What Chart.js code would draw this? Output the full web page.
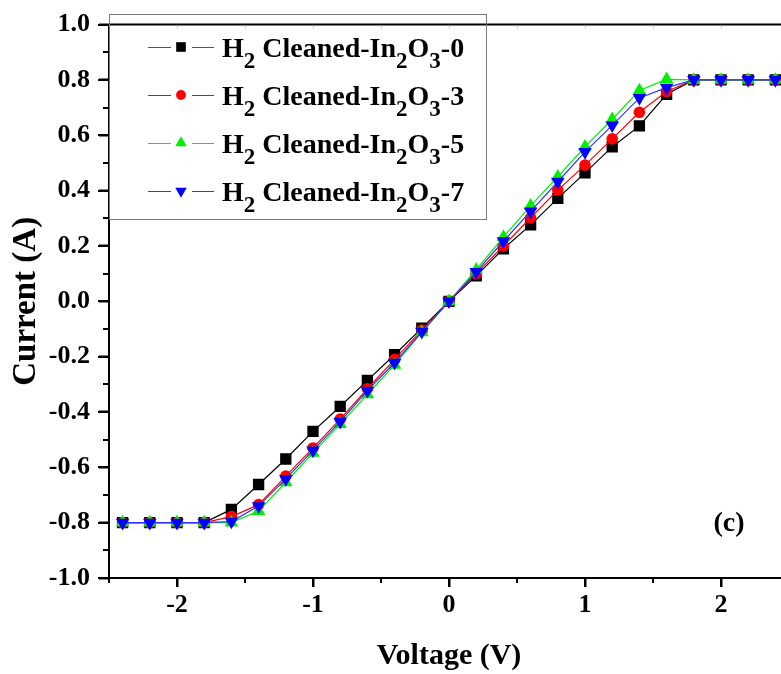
<!DOCTYPE html>
<html>
<head>
<meta charset="utf-8">
<script src="https://cdn.jsdelivr.net/npm/chart.js@4.4.1/dist/chart.umd.min.js"></script>
<style>
  html, body { margin: 0; padding: 0; background: #fff; overflow: hidden; }
  #wrap { width: 800px; height: 674px; }
</style>
</head>
<body>
<div id="wrap"><canvas id="iv" width="800" height="674"></canvas></div>
<script>
// Voltage steps (V)
const voltage = [-2.4, -2.2, -2.0, -1.8, -1.6, -1.4, -1.2, -1.0, -0.8, -0.6, -0.4, -0.2, 0,
                 0.2, 0.4, 0.6, 0.8, 1.0, 1.2, 1.4, 1.6, 1.8, 2.0, 2.2, 2.4];

// Current (A)
const in2o3_0 = [-0.8, -0.8, -0.8, -0.8, -0.752, -0.662, -0.57, -0.47, -0.38, -0.286, -0.193, -0.097, 0,
                 0.092, 0.19, 0.276, 0.372, 0.464, 0.558, 0.634, 0.748, 0.8, 0.8, 0.8, 0.8];
const in2o3_3 = [-0.8, -0.8, -0.8, -0.8, -0.778, -0.735, -0.632, -0.53, -0.426, -0.316, -0.21, -0.104, 0,
                 0.1, 0.2, 0.302, 0.402, 0.492, 0.587, 0.683, 0.758, 0.8, 0.8, 0.8, 0.8];
const in2o3_5 = [-0.8, -0.8, -0.8, -0.8, -0.8, -0.758, -0.654, -0.548, -0.444, -0.336, -0.23, -0.112, 0,
                 0.114, 0.232, 0.345, 0.45, 0.558, 0.658, 0.762, 0.802, 0.8, 0.8, 0.8, 0.8];
const in2o3_7 = [-0.8, -0.8, -0.8, -0.8, -0.796, -0.74, -0.642, -0.539, -0.435, -0.323, -0.222, -0.11, 0,
                 0.106, 0.217, 0.325, 0.432, 0.54, 0.636, 0.735, 0.772, 0.8, 0.8, 0.8, 0.8];

const seriesSuffix = ['0', '3', '5', '7'];
const xTicks = [-2, -1, 0, 1, 2];
const yTicks = [-1.0, -0.8, -0.6, -0.4, -0.2, 0.0, 0.2, 0.4, 0.6, 0.8, 1.0];
const xMinor = [-2.5, -1.5, -0.5, 0.5, 1.5, 2.5];
const yMinor = [-0.9, -0.7, -0.5, -0.3, -0.1, 0.1, 0.3, 0.5, 0.7, 0.9];

const SERIF = '"Liberation Serif", "Times New Roman", serif';

const styles = [
  { color: '#000000', line: '#000000', shape: 'rect', radius: 8, rot: 0 },
  { color: '#ff0000', line: '#ff0000', shape: 'circle', radius: 5.8, rot: 0 },
  { color: '#00ee00', line: '#00ee00', shape: 'triangle', radius: 7.8, rot: 0 },
  { color: '#0000ff', line: '#3333ff', shape: 'triangle', radius: 7.8, rot: 180 }
];

const allSeries = [in2o3_0, in2o3_3, in2o3_5, in2o3_7];

const datasets = allSeries.map((vals, i) => ({
  label: 'H2 Cleaned-In2O3-' + seriesSuffix[i],
  data: voltage.map((v, k) => ({ x: v, y: vals[k] })),
  borderColor: styles[i].line,
  backgroundColor: styles[i].color,
  borderWidth: 1.2,
  pointStyle: styles[i].shape,
  pointRadius: styles[i].radius,
  pointRotation: styles[i].rot,
  pointBorderWidth: 0,
  pointBackgroundColor: styles[i].color,
  tension: 0,
  order: 3 - i   // blue drawn on top
}));

// ticks, top frame line, legend and panel label
const decorations = {
  id: 'decorations',
  afterDraw(chart) {
    const { ctx, chartArea: ca, scales: { x, y } } = chart;
    ctx.save();
    ctx.strokeStyle = '#000';
    ctx.lineWidth = 2;
    ctx.beginPath();
    xMinor.forEach(v => {
      const px = Math.round(x.getPixelForValue(v));
      ctx.moveTo(px, ca.bottom);
      ctx.lineTo(px, ca.bottom + 5);
    });
    xTicks.forEach(v => {
      const px = Math.round(x.getPixelForValue(v));
      ctx.moveTo(px, ca.bottom);
      ctx.lineTo(px, ca.bottom + 9);
    });
    yMinor.forEach(v => {
      const py = Math.round(y.getPixelForValue(v));
      ctx.moveTo(ca.left, py);
      ctx.lineTo(ca.left - 6, py);
    });
    yTicks.forEach(v => {
      const py = Math.round(y.getPixelForValue(v));
      ctx.moveTo(ca.left, py);
      ctx.lineTo(ca.left - 11, py);
    });
    ctx.stroke();

    // top frame
    ctx.beginPath();
    ctx.moveTo(ca.left - 1, ca.top);
    ctx.lineTo(ca.right, ca.top);
    ctx.stroke();

    // faint mirror ticks on top
    ctx.strokeStyle = '#cccccc';
    ctx.lineWidth = 1;
    ctx.beginPath();
    xTicks.concat(xMinor).forEach(v => {
      const px = Math.round(x.getPixelForValue(v)) + 0.5;
      ctx.moveTo(px, ca.top + 1);
      ctx.lineTo(px, ca.top + 4);
    });
    ctx.stroke();

    // legend box
    const bx = 109.5, by = 14.5, bw = 377, bh = 205;
    ctx.strokeStyle = '#7a7a7a';
    ctx.lineWidth = 1;
    ctx.strokeRect(bx, by, bw, bh);

    const rows = [47, 95, 143, 191];
    const mainFont = 'bold 28px ' + SERIF;
    const subFont = 'bold 23px ' + SERIF;
    rows.forEach((ry, i) => {
      const st = styles[i];
      ctx.strokeStyle = st.line === '#000000' ? '#555' : st.line;
      ctx.lineWidth = 1.2;
      ctx.beginPath();
      ctx.moveTo(148, ry + 0.5); ctx.lineTo(171, ry + 0.5);
      ctx.moveTo(192, ry + 0.5); ctx.lineTo(214, ry + 0.5);
      ctx.stroke();
      ctx.fillStyle = st.color;
      Chart.helpers.drawPoint(ctx, { pointStyle: st.shape, radius: st.radius * 0.85, rotation: st.rot, borderWidth: 0 }, 181, ry);

      // text with subscripts
      const parts = [['H', 0], ['2', 1], [' Cleaned-In', 0], ['2', 1], ['O', 0], ['3', 1], ['-' + seriesSuffix[i], 0]];
      let tx = 222;
      const base = ry + 10;
      ctx.fillStyle = '#000';
      ctx.textBaseline = 'alphabetic';
      ctx.textAlign = 'left';
      parts.forEach(([t, sub]) => {
        ctx.font = sub ? subFont : mainFont;
        ctx.fillText(t, tx, sub ? base + 11 : base);
        tx += ctx.measureText(t).width;
      });
    });

    // panel label
    ctx.font = 'bold 28px ' + SERIF;
    ctx.fillStyle = '#000';
    ctx.textAlign = 'center';
    ctx.textBaseline = 'middle';
    ctx.fillText('(c)', 729, 524);
    ctx.restore();
  }
};

new Chart(document.getElementById('iv'), {
  type: 'line',
  data: { datasets },
  options: {
    responsive: false,
    animation: false,
    events: [],
    layout: { padding: { top: 21, right: 11, left: 0, bottom: 0 } },
    plugins: { legend: { display: false }, tooltip: { enabled: false } },
    scales: {
      x: {
        type: 'linear',
        min: -2.5,
        max: 2.5,
        afterFit: s => { s.height = 96; },
        afterBuildTicks: s => { s.ticks = xTicks.map(v => ({ value: v })); },
        grid: { drawOnChartArea: false, drawTicks: true, tickLength: 9, tickWidth: 2, tickColor: '#000' },
        border: { display: true, color: '#000', width: 2 },
        ticks: {
          color: '#000',
          padding: 3,
          maxRotation: 0,
          font: { family: SERIF, size: 26, weight: 'bold' },
          callback: v => String(v)
        },
        title: {
          display: true,
          text: 'Voltage (V)',
          color: '#000',
          padding: { top: 0, bottom: 0 },
          font: { family: SERIF, size: 30, weight: 'bold' }
        }
      },
      y: {
        type: 'linear',
        min: -1,
        max: 1,
        afterFit: s => { s.width = 109; },
        afterBuildTicks: s => { s.ticks = yTicks.map(v => ({ value: v })); },
        grid: { drawOnChartArea: false, drawTicks: true, tickLength: 10, tickWidth: 2, tickColor: '#000' },
        border: { display: true, color: '#000', width: 2 },
        ticks: {
          color: '#000',
          padding: 9,
          font: { family: SERIF, size: 26, weight: 'bold' },
          callback: v => v.toFixed(1)
        },
        title: {
          display: true,
          text: 'Current (A)',
          color: '#000',
          padding: { top: 7, bottom: 0 },
          font: { family: SERIF, size: 33, weight: 'bold' }
        }
      }
    }
  },
  plugins: [decorations]
});
</script>
</body>
</html>
